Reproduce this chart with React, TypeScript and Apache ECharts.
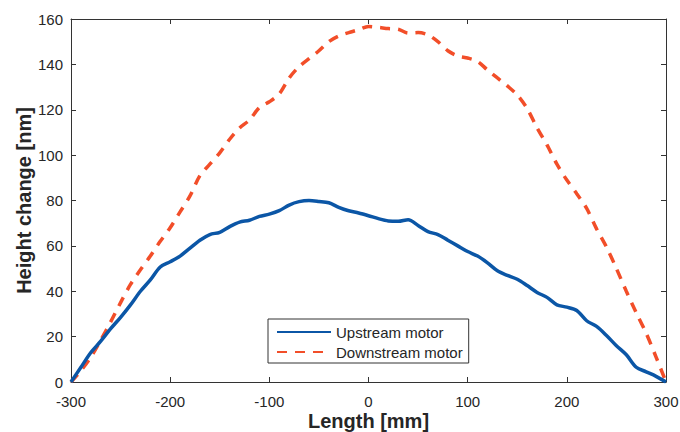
import React, { useEffect, useRef } from "react";
import * as echarts from "echarts";

const lengths: number[] = [
  -300, -290, -280, -270, -260, -250, -240, -230, -220, -210,
  -200, -190, -180, -170, -160, -150, -140, -130, -120, -110,
  -100, -90, -80, -70, -60, -50, -40, -30, -20, -10,
  0, 10, 20, 30, 40, 50, 60, 70, 80, 90,
  100, 110, 120, 130, 140, 150, 160, 170, 180, 190,
  200, 210, 220, 230, 240, 250, 260, 270, 280, 290, 300,
];

const upstream: number[] = [
  0, 6.5, 13, 18, 23.5, 28.5, 34, 40, 45, 50.7,
  53, 55.5, 59, 62.5, 65, 66, 68.5, 70.5, 71.3, 73,
  74, 75.5, 78, 79.5, 80, 79.6, 79, 77, 75.5, 74.5,
  73.3, 72, 71, 70.8, 71.5, 69, 66.3, 65, 62.5, 60,
  57.5, 55.5, 52.5, 49, 47, 45.3, 42.5, 39.5, 37.3, 34,
  33, 31.5, 27, 24.5, 20.5, 16, 12, 6.5, 4.5, 2.5, 0,
];

const downstream: number[] = [
  0, 5, 11, 18.5, 26.5, 35, 43, 49.5, 55.5, 62,
  68, 75, 82, 91, 96, 101, 107, 112, 115.5, 121,
  123.5, 127, 134, 139, 142.5, 146, 150, 152.5, 154, 155.3,
  156.7, 156.3, 155.8, 155.5, 153.8, 154, 153, 150, 146, 143.7,
  142.8, 141.3, 137.5, 134, 130.5, 126.5, 120.5, 112, 104.5, 96,
  89, 83, 76.5, 67.5, 59.5, 50, 40, 30.5, 21.5, 11, 0,
];

const seriesNames: string[] = ["Upstream motor", "Downstream motor"];

const FONT = "'Liberation Sans', Arial, Helvetica, sans-serif";
const AXIS_COLOR = "#333333";
const TEXT_COLOR = "#262626";

export default function App() {
  const ref = useRef<HTMLDivElement>(null);

  useEffect(() => {
    if (!ref.current) return;
    const chart = echarts.init(ref.current, undefined, { renderer: "svg" });

    const pair = (vals: number[]) => lengths.map((x, i) => [x, vals[i]]);

    const axisCommon = {
      axisLine: { show: true, onZero: false, lineStyle: { color: AXIS_COLOR, width: 1 } },
      axisTick: { show: true, inside: true, length: 5, lineStyle: { color: AXIS_COLOR } },
      splitLine: { show: false },
    };

    chart.setOption({
      animation: false,
      backgroundColor: "#ffffff",
      textStyle: { fontFamily: FONT },
      grid: {
        left: 71,
        right: 14,
        top: 19,
        bottom: 50,
        containLabel: false,
        outerBoundsMode: "none",
      },
      legend: {
        show: true,
        orient: "vertical",
        left: 268,
        top: 319,
        data: seriesNames,
        itemWidth: 54,
        itemHeight: 14,
        itemGap: 4,
        padding: [5, 6, 3, 8],
        borderColor: "#333333",
        borderWidth: 1,
        backgroundColor: "#ffffff",
        borderRadius: 0,
        itemStyle: { opacity: 0 },
        textStyle: { fontFamily: FONT, fontSize: 15, color: TEXT_COLOR, lineHeight: 16 },
      },
      xAxis: [
        {
          type: "value",
          min: -300,
          max: 300,
          interval: 100,
          position: "bottom",
          ...axisCommon,
          axisLabel: { fontFamily: FONT, fontSize: 15, color: TEXT_COLOR, margin: 12 },
          name: "Length [mm]",
          nameLocation: "middle",
          nameGap: 29,
          nameMoveOverlap: false,
          nameTextStyle: { fontFamily: FONT, fontSize: 20, fontWeight: "bold", color: TEXT_COLOR },
        },
        {
          type: "value",
          min: -300,
          max: 300,
          interval: 100,
          position: "top",
          ...axisCommon,
          axisLabel: { show: false },
        },
      ],
      yAxis: [
        {
          type: "value",
          min: 0,
          max: 160,
          interval: 20,
          position: "left",
          ...axisCommon,
          axisLabel: { fontFamily: FONT, fontSize: 15, color: TEXT_COLOR, margin: 8 },
          name: "Height change [nm]",
          nameLocation: "middle",
          nameGap: 37,
          nameMoveOverlap: false,
          nameTextStyle: { fontFamily: FONT, fontSize: 20, fontWeight: "bold", color: TEXT_COLOR },
        },
        {
          type: "value",
          min: 0,
          max: 160,
          interval: 20,
          position: "right",
          ...axisCommon,
          axisLabel: { show: false },
        },
      ],
      series: [
        {
          name: seriesNames[0],
          type: "line",
          xAxisIndex: 0,
          yAxisIndex: 0,
          data: pair(upstream),
          symbol: "none",
          smooth: 0.3,
          lineStyle: { color: "#0b56a6", width: 3.5, type: "solid" },
          itemStyle: { color: "#0b56a6" },
          z: 3,
        },
        {
          name: seriesNames[1],
          type: "line",
          xAxisIndex: 0,
          yAxisIndex: 0,
          data: pair(downstream),
          symbol: "none",
          smooth: 0.3,
          lineStyle: { color: "#f24e29", width: 3.5, type: [10, 8] },
          itemStyle: { color: "#f24e29" },
          z: 2,
        },
      ],
    });

    return () => {
      chart.dispose();
    };
  }, []);

  return (
    <div
      ref={ref}
      style={{ position: "fixed", left: 0, top: 0, width: 680, height: 432, background: "#fff" }}
    />
  );
}
